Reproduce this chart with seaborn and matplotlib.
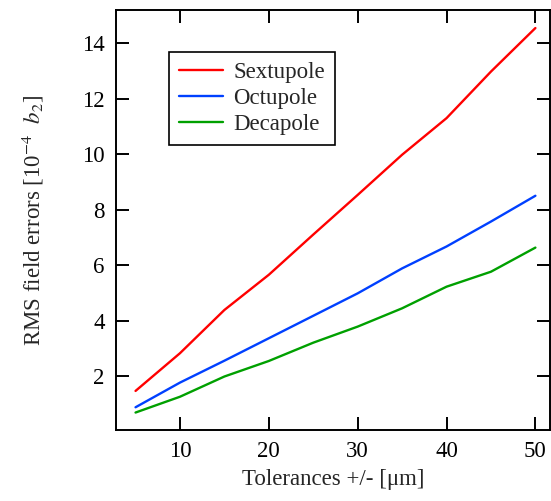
import matplotlib
matplotlib.use("Agg")
import matplotlib.pyplot as plt
import seaborn as sns
import pandas as pd

tolerances = [5, 10, 15, 20, 25, 30, 35, 40, 45, 50]
sextupole = [1.46, 2.82, 4.38, 5.65, 7.1, 8.53, 9.98, 11.3, 12.98, 14.55]
octupole = [0.87, 1.76, 2.55, 3.36, 4.17, 4.98, 5.88, 6.67, 7.57, 8.5]
decapole = [0.68, 1.25, 1.98, 2.54, 3.2, 3.78, 4.44, 5.22, 5.76, 6.63]
series_names = ["Sextupole", "Octupole", "Decapole"]
colors = ["#ff0000", "#0040ff", "#00a000"]


def main():
    df = pd.DataFrame({
        "Tolerance": tolerances * 3,
        "RMS": sextupole + octupole + decapole,
        "Multipole": [n for n in series_names for _ in tolerances],
    })

    sns.set_theme(style="ticks")
    plt.rcParams["font.family"] = ["Liberation Serif", "DejaVu Serif"]
    plt.rcParams["mathtext.fontset"] = "stix"

    fig = plt.figure(figsize=(5.51, 5.01), dpi=100)
    ax = fig.add_axes([0.2105, 0.1417, 0.787, 0.8383])
    sns.lineplot(data=df, x="Tolerance", y="RMS", hue="Multipole",
                 palette=dict(zip(series_names, colors)), linewidth=1.7, ax=ax)

    ax.set_xlim(2.8, 51.6)
    ax.set_ylim(0.05, 15.2)
    ax.set_xticks([10, 20, 30, 40, 50])
    ax.set_yticks([2, 4, 6, 8, 10, 12, 14])
    ax.tick_params(direction="in", length=9.5, width=1.4, labelsize=16.5,
                   top=True, right=True, pad=8, colors="black")
    for s in ax.spines.values():
        s.set_linewidth(1.4)
        s.set_color("black")
        s.set_visible(True)

    ax.set_xlabel("Tolerances +/- [μm]", fontsize=16.5, labelpad=5)
    ax.set_ylabel(r"RMS field errors [10$^{\mathrm{-4}}$  $b_2$]", fontsize=16.5,
                  labelpad=26)

    leg = ax.legend(loc="upper left", bbox_to_anchor=(0.122, 0.9), fontsize=16.5,
                    frameon=True, fancybox=False, framealpha=1, handlelength=1.92,
                    handletextpad=0.44, borderpad=0.45, labelspacing=0.2,
                    borderaxespad=0)
    leg.get_frame().set_edgecolor("black")
    leg.get_frame().set_linewidth(1.2)
    leg.set_title(None)

    fig.savefig("out.png", dpi=100)


if __name__ == "__main__":
    main()
